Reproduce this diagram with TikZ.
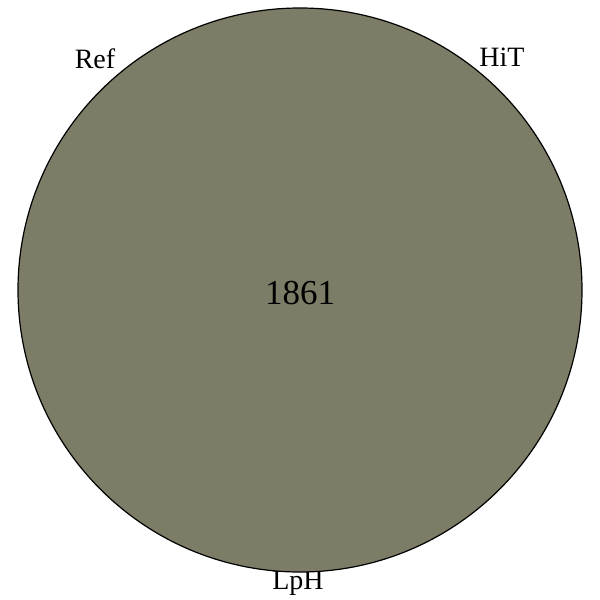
\documentclass[tikz,border=0pt]{standalone}
\usepackage{fontspec}
\setmainfont{Liberation Serif}
\definecolor{venn}{HTML}{7D7C66}
\tikzset{
  lbl/.style={anchor=base, inner sep=0pt, font=\fontsize{28}{30}\selectfont},
  num/.style={anchor=base, inner sep=0pt, font=\fontsize{35}{38}\selectfont},
  setcircle/.style={draw=black, line width=1.2pt, fill=venn}
}
\begin{document}
\begin{tikzpicture}[x=1pt,y=-1pt]
\useasboundingbox (0,0) rectangle (600,600);
\node[lbl] (lph) at (298,589) {LpH};
\node[setcircle, circle, minimum size=564pt, inner sep=0pt] (c) at (300,290) {};
\node[lbl] (ref) at (95,68.3) {Ref};
\node[lbl] (hit) at (502,66.7) {HiT};
\node[num] (n) at (300,304) {1861};
\end{tikzpicture}
\end{document}
